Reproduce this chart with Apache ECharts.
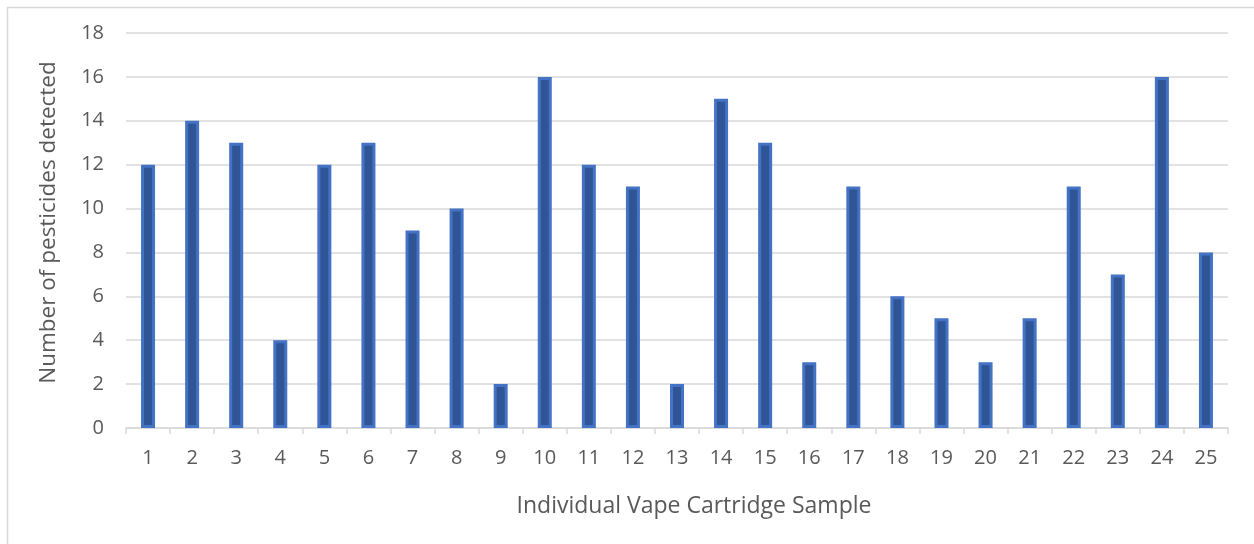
<!DOCTYPE html>
<html>
<head>
<meta charset="utf-8">
<script src="https://cdn.jsdelivr.net/npm/echarts@6/dist/echarts.min.js"></script>
<style>
  html, body { margin: 0; padding: 0; background: #fff; }
  #chart { width: 1254px; height: 544px; }
</style>
</head>
<body>
<div id="chart"></div>
<script>
// Samples on the x axis and pesticide counts per sample
const samples = ['1','2','3','4','5','6','7','8','9','10','11','12','13','14','15','16','17','18','19','20','21','22','23','24','25'];
const pesticideCounts = [12, 14, 13, 4, 12, 13, 9, 10, 2, 16, 12, 11, 2, 15, 13, 3, 11, 6, 5, 3, 5, 11, 7, 16, 8];
const xAxisTitle = 'Individual Vape Cartridge Sample';
const yAxisTitle = 'Number of pesticides detected';

const FONT = '"Open Sans", sans-serif';
const chart = echarts.init(document.getElementById('chart'));

chart.setOption({
  animation: false,
  backgroundColor: '#ffffff',
  // chart-area frame
  graphic: [{
    type: 'rect',
    left: 5, top: 5,
    shape: { width: 1260, height: 560 },
    style: { fill: 'none', stroke: '#d9d9d9', lineWidth: 1.5 },
    silent: true
  }],
  grid: { left: 126, right: 26, top: 33, bottom: 116 },
  xAxis: {
    type: 'category',
    data: samples,
    name: xAxisTitle,
    nameLocation: 'middle',
    nameGap: 67,
    nameTextStyle: { fontFamily: FONT, fontSize: 23, color: '#595959', padding: [0, 0, 0, 34] },
    axisLine: { lineStyle: { color: '#d9d9d9', width: 1.5 } },
    axisTick: { show: true, alignWithLabel: false, length: 6, lineStyle: { color: '#d9d9d9', width: 1.5 } },
    axisLabel: { fontFamily: FONT, fontSize: 20, color: '#595959', margin: 20 }
  },
  yAxis: {
    type: 'value',
    min: 0, max: 18, interval: 2,
    name: yAxisTitle,
    nameLocation: 'middle',
    nameGap: 66,
    nameTextStyle: { fontFamily: FONT, fontSize: 22.5, color: '#595959', padding: [0, 0, 0, 16] },
    axisLine: { show: false },
    axisTick: { show: false },
    axisLabel: { fontFamily: FONT, fontSize: 20, color: '#595959', margin: 22 },
    splitLine: { lineStyle: { color: '#d9d9d9', width: 1.5 } }
  },
  series: [{
    type: 'bar',
    data: pesticideCounts,
    barWidth: 14,
    itemStyle: { color: '#2F5597', borderColor: '#4472C4', borderWidth: 3 }
  }]
});
</script>
</body>
</html>
